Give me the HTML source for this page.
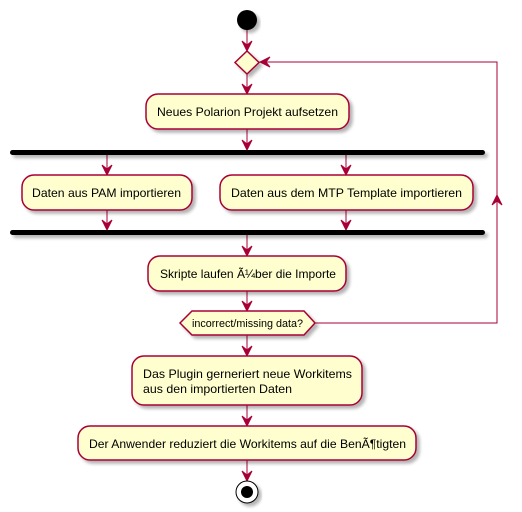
<!DOCTYPE html>
<html><head><style>body{margin:0;background:#fff}svg{display:block}text{font-family:"Liberation Sans",sans-serif;font-size:12px;fill:#000}</style></head><body>
<svg width="522" height="512" viewBox="0 0 522 512">
<defs>
<filter id="s" x="-10%" y="-10%" width="130%" height="140%"><feGaussianBlur in="SourceAlpha" stdDeviation="1.5"/><feOffset dx="3" dy="3"/><feComponentTransfer><feFuncA type="linear" slope="0.3"/></feComponentTransfer><feMerge><feMergeNode/><feMergeNode in="SourceGraphic"/></feMerge></filter>
</defs>
<g stroke="#A80036" stroke-width="1" fill="none">
<line x1="247" y1="30" x2="247" y2="50"/><path d="M242,41 L247,51 L252,41 L247,45Z" fill="#A80036"/>
<line x1="247" y1="74" x2="247" y2="93"/><path d="M242,84 L247,94 L252,84 L247,88Z" fill="#A80036"/>
<line x1="247" y1="129" x2="247" y2="150"/><path d="M242,140 L247,150 L252,140 L247,144Z" fill="#A80036"/>
<line x1="107" y1="155" x2="107" y2="175"/><path d="M102,165 L107,175 L112,165 L107,169Z" fill="#A80036"/>
<line x1="346" y1="155" x2="346" y2="175"/><path d="M341,165 L346,175 L351,165 L346,169Z" fill="#A80036"/>
<line x1="107" y1="210" x2="107" y2="230"/><path d="M102,220 L107,230 L112,220 L107,224Z" fill="#A80036"/>
<line x1="346" y1="210" x2="346" y2="230"/><path d="M341,220 L346,230 L351,220 L346,224Z" fill="#A80036"/>
<line x1="247" y1="235" x2="247" y2="256"/><path d="M242,246 L247,256 L252,246 L247,250Z" fill="#A80036"/>
<line x1="247" y1="291" x2="247" y2="311"/><path d="M242,301 L247,311 L252,301 L247,305Z" fill="#A80036"/>
<line x1="247" y1="335" x2="247" y2="356"/><path d="M242,346 L247,356 L252,346 L247,350Z" fill="#A80036"/>
<line x1="247" y1="405" x2="247" y2="426"/><path d="M242,416 L247,426 L252,416 L247,420Z" fill="#A80036"/>
<line x1="247" y1="460" x2="247" y2="481"/><path d="M242,471 L247,481 L252,471 L247,475Z" fill="#A80036"/>
<polyline points="315,323 497,323 497,62 260,62"/>
<path d="M270,57 L260,62 L270,67 L266,62Z" fill="#A80036"/>
<path d="M492,205 L497,195 L502,205 L497,201Z" fill="#A80036"/>
</g>
<circle cx="247" cy="20" r="10" fill="#000" filter="url(#s)"/>
<g fill="#FEFECE" stroke="#A80036" stroke-width="1.5" filter="url(#s)">
<polygon points="247,51 259,62.5 247,74 235,62.5"/>
<rect x="146" y="94" width="203" height="35" rx="12"/>
<rect x="22" y="175" width="170" height="35" rx="12"/>
<rect x="220" y="175" width="253" height="35" rx="12"/>
<rect x="148" y="256" width="198" height="35" rx="12"/>
<polygon points="180,323 192,311 304,311 315,323 304,335 192,335"/>
<rect x="132" y="356" width="230" height="49" rx="12"/>
<rect x="78" y="426" width="338" height="34" rx="12"/>
</g>
<g fill="#000" filter="url(#s)">
<rect x="10" y="150" width="475" height="5" rx="2.5"/>
<rect x="10" y="230" width="475" height="5" rx="2.5"/>
</g>
<circle cx="247" cy="492" r="11" fill="#fff" stroke="#000" stroke-width="1" filter="url(#s)"/>
<circle cx="247" cy="492" r="6" fill="#000"/>
<text x="157" y="116" textLength="181" lengthAdjust="spacingAndGlyphs">Neues Polarion Projekt aufsetzen</text>
<text x="32" y="197" textLength="149" lengthAdjust="spacingAndGlyphs">Daten aus PAM importieren</text>
<text x="231" y="197" textLength="231" lengthAdjust="spacingAndGlyphs">Daten aus dem MTP Template importieren</text>
<text x="160" y="278" textLength="176" lengthAdjust="spacingAndGlyphs">Skripte laufen Ã¼ber die Importe</text>
<text x="192" y="327" style="font-size:11px" textLength="111" lengthAdjust="spacingAndGlyphs">incorrect/missing data?</text>
<text x="143" y="378" textLength="209" lengthAdjust="spacingAndGlyphs">Das Plugin gerneriert neue Workitems</text>
<text x="143" y="393" textLength="149" lengthAdjust="spacingAndGlyphs">aus den importierten Daten</text>
<text x="89" y="448" textLength="317" lengthAdjust="spacingAndGlyphs">Der Anwender reduziert die Workitems auf die BenÃ¶tigten</text>
</svg>
</body></html>
